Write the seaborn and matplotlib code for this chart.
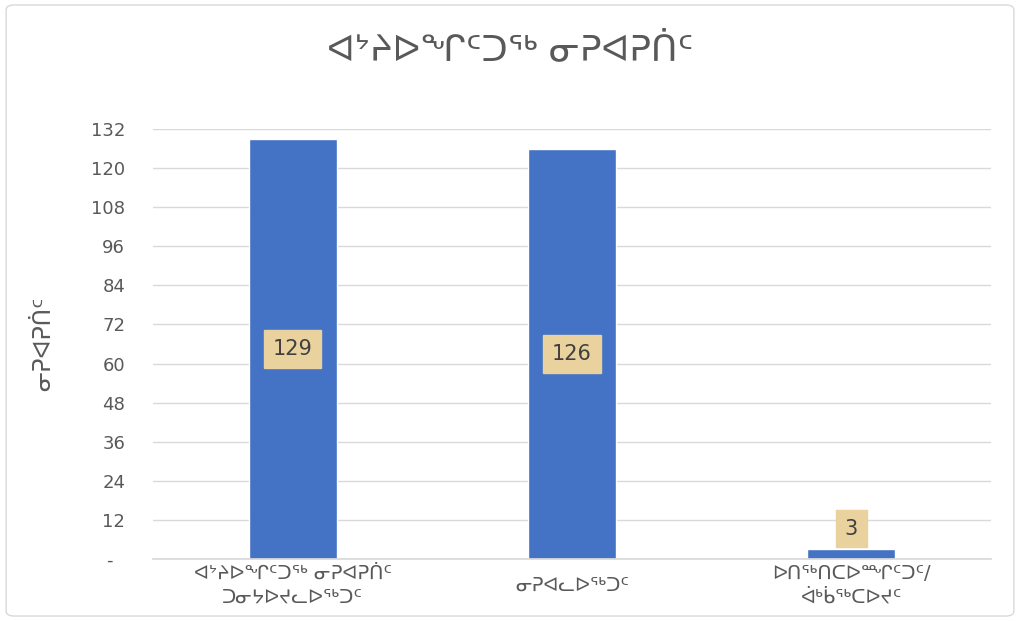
import matplotlib
matplotlib.use("Agg")
import matplotlib.pyplot as plt
from matplotlib.patches import FancyBboxPatch
import seaborn as sns
import pandas as pd

title = "ᐊᔾᔨᐅᖏᑦᑐᖅ ᓂᕈᐊᕈᑏᑦ"
y_label = "ᓂᕈᐊᕈᑏᑦ"
categories = ["ᐊᔾᔨᐅᖏᑦᑐᖅ ᓂᕈᐊᕈᑏᑦ\nᑐᓂᔭᐅᔪᓚᐅᖅᑐᑦ",
              "ᓂᕈᐊᓚᐅᖅᑐᑦ",
              "ᐅᑎᖅᑎᑕᐅᙱᑦᑐᑦ/\nᐋᒃᑳᖅᑕᐅᔪᑦ"]
counts = [129, 126, 3]
y_ticks = list(range(0, 133, 12))
y_tick_labels = ["-  "] + [str(t) for t in y_ticks[1:]]

sns.set_theme(style="white")
plt.rcParams['font.family'] = ['DejaVu Sans']

data = pd.DataFrame({'category': categories, 'count': counts})

fig = plt.figure(figsize=(10.2, 6.21), dpi=100)
ax = fig.add_axes([0.15, 0.0998, 0.8216, 0.6925])

sns.barplot(data=data, x='category', y='count', color='#4472C4',
            width=0.315, saturation=1, ax=ax)

ax.set_xlim(-0.5, 2.5)
ax.set_ylim(0, 132)
ax.set_yticks(y_ticks)
ax.set_yticklabels(y_tick_labels)
ax.yaxis.grid(True, color='#D9D9D9', linewidth=1)
ax.set_axisbelow(True)
for side in ['left', 'right', 'top']:
    ax.spines[side].set_visible(False)
ax.spines['bottom'].set_color('#D9D9D9')
ax.tick_params(axis='y', length=0, pad=20, labelsize=13, labelcolor='#595959')
ax.tick_params(axis='x', length=0, pad=19, labelsize=14, labelcolor='#595959')
for lbl in ax.get_xticklabels():
    lbl.set_verticalalignment('center')
    lbl.set_linespacing(1.35)

ax.set_xlabel('')
ax.set_ylabel(y_label, fontsize=17, color='#595959', labelpad=26)

# data labels
box = dict(boxstyle='square,pad=0.42', facecolor='#EAD29E', edgecolor='#EAD29E')
for i, v in enumerate(counts):
    y = v / 2 if v > 20 else v + 6.3
    ax.text(i, y, str(v), ha='center', va='center', fontsize=15,
            color='#404040', bbox=box)

fig.text(0.5, 0.92, title, ha='center', va='center', fontsize=26, color='#595959')

border = FancyBboxPatch((0.006, 0.008), 0.988, 0.984, boxstyle='round,pad=0,rounding_size=0.008',
                        transform=fig.transFigure, facecolor='none', edgecolor='#D9D9D9',
                        linewidth=1)
fig.patches.append(border)

fig.savefig('out.png', dpi=100)
